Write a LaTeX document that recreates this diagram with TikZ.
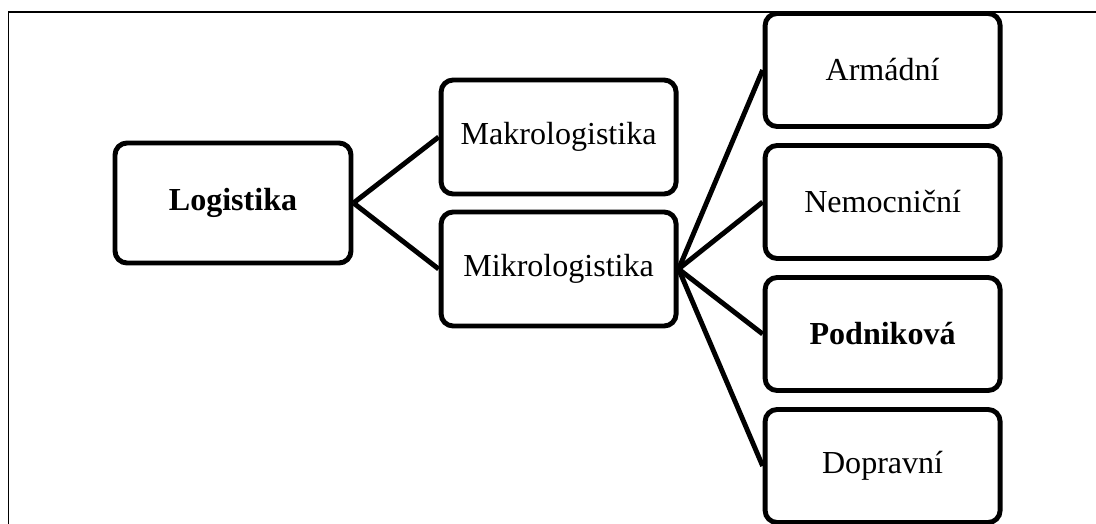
\documentclass[tikz,border=0pt]{standalone}
\usepackage{fontspec}
\setmainfont{Liberation Serif}
\usetikzlibrary{positioning}

\begin{document}
\begin{tikzpicture}[node distance=3.3cm,on grid]
      \tikzset{box/.style={draw,rectangle,rounded corners=0.3cm,line width=3.5pt,
          minimum width=5.875cm,minimum height=2.85cm,font=\fontsize{22.8}{27}\selectfont}}
      \tikzset{link/.style={line width=3.5pt}}

      \useasboundingbox (0,0) rectangle (27.4,-13.075);
      % frame (cut off at the right and bottom)
      \draw[line width=1.1pt] (0.2125,-13.2) -- (0.2125,-0.3) -- (27.5,-0.3);

      \node[box,minimum width=5.9cm,minimum height=3cm] (logi) at (5.825,-5.075) {\textbf{Logistika}};
      \node[box] (makro) [above right = 1.65cm and 8.14cm of logi] {Makrologistika};
      \node[box] (mikro) [below = of makro] {Mikrologistika};

      \node[box,minimum height=2.825cm] (arm) [above right = 4.975cm and 8.1cm of mikro] {Armádní};
      \node[box,minimum height=2.825cm] (nem) [below = of arm] {Nemocniční};
      \node[box,minimum height=2.825cm] (pod) [below = of nem] {\textbf{Podniková}};
      \node[box,minimum height=2.825cm] (dop) [below = of pod] {Dopravní};

      \path[link]
      (logi.east)
      edge (makro.west)
      edge (mikro.west)
      (mikro.east)
      edge (arm.west)
      edge (nem.west)
      edge (pod.west)
      edge (dop.west)
      ;
    \end{tikzpicture}
\end{document}
